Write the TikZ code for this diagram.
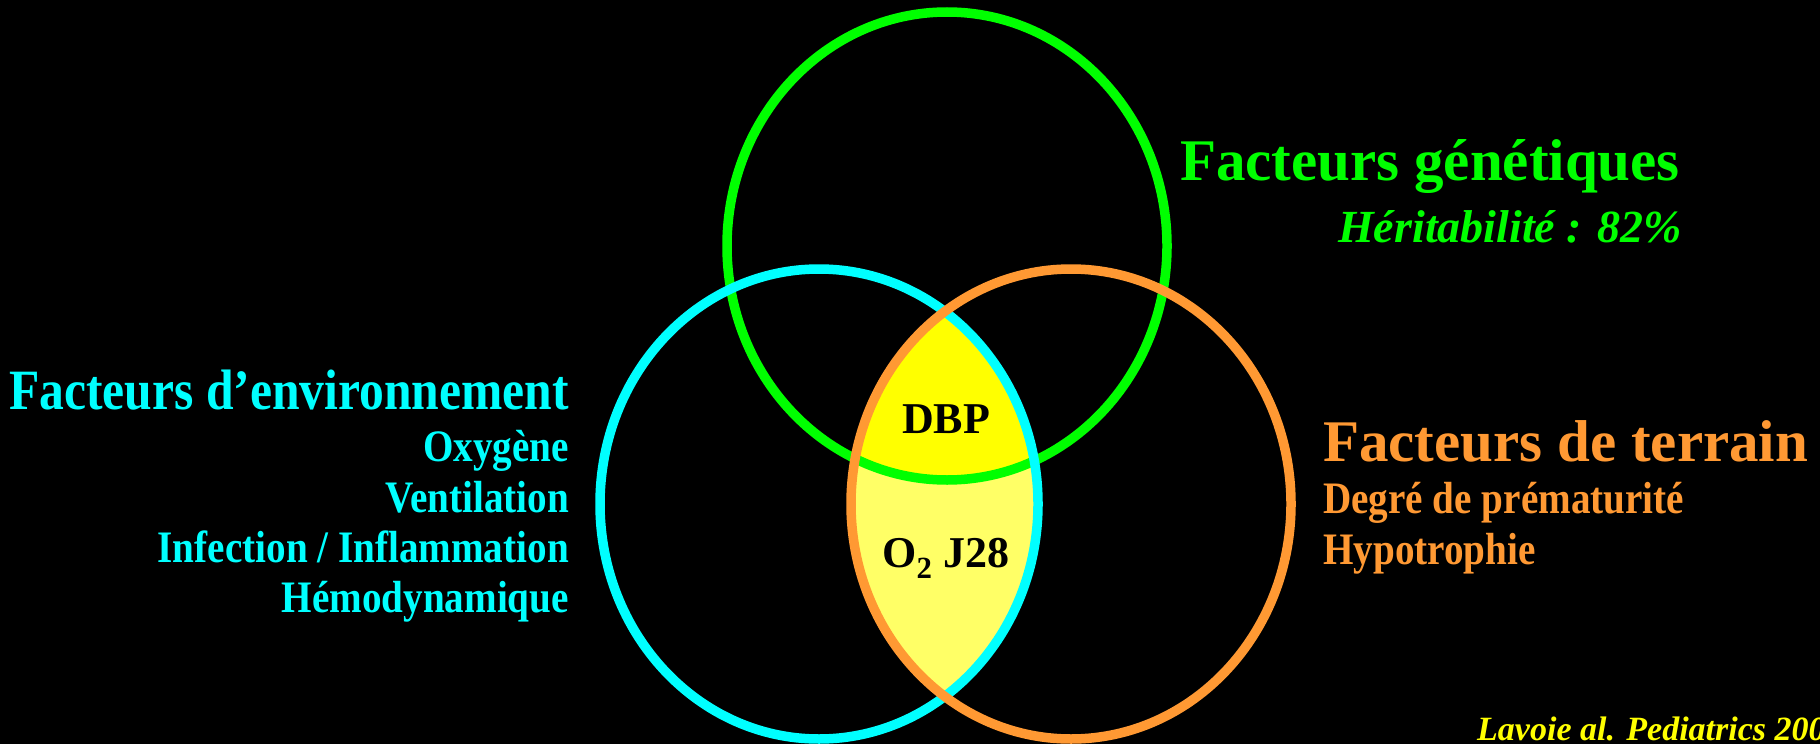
\documentclass[tikz,border=0pt]{standalone}
\usepackage{fontspec}
\setmainfont{Liberation Serif}
\newfontfamily\condfont[FakeStretch=0.87]{Liberation Serif}
\newcommand{\myfs}[1]{\fontsize{#1}{#1}\selectfont}
\definecolor{vgreen}{RGB}{0,255,0}
\definecolor{vcyan}{RGB}{0,255,255}
\definecolor{vorange}{RGB}{255,153,51}
\definecolor{vyellow}{RGB}{255,255,0}
\definecolor{lyellow}{RGB}{255,255,102}
\tikzset{
  ring/.style={line width=9.5pt},
  lbl/.style={inner sep=0pt, font=\bfseries},
}
\begin{document}
\begin{tikzpicture}[x=1pt,y=-1pt]
\useasboundingbox (0,0) rectangle (1820,744);
\fill[black] (0,0) rectangle (1820,744);
% lens fills
\begin{scope}
  \clip (819,504) ellipse [x radius=219pt, y radius=235pt];
  \fill[lyellow] (1071,504) ellipse [x radius=220pt, y radius=235pt];
  \clip (1071,504) ellipse [x radius=220pt, y radius=235pt];
  \fill[vyellow] (947,246) ellipse [x radius=220pt, y radius=234pt];
\end{scope}
% rings
\draw[ring, vgreen] (947,246) ellipse [x radius=220pt, y radius=234pt];
\draw[ring, vcyan] (819,504) ellipse [x radius=219pt, y radius=235pt];
\draw[ring, vorange] (1071,504) ellipse [x radius=220pt, y radius=235pt];
% genetic
\node[lbl, vgreen, anchor=base east] (gen) at (1680,180) {\myfs{59}Facteurs génétiques};
\node[lbl, vgreen, anchor=base east] (her) at (1682,242) {\myfs{46}\itshape Héritabilité : 82\%};
% environment
\node[lbl, vcyan, anchor=base east] (env) at (569,409) {\condfont\myfs{57}\bfseries Facteurs d’environnement};
\node[lbl, vcyan, anchor=base east] (oxy) at (569,461) {\condfont\myfs{45}\bfseries Oxygène};
\node[lbl, vcyan, anchor=base east] (ven) at (569,512) {\condfont\myfs{45}\bfseries Ventilation};
\node[lbl, vcyan, anchor=base east] (inf) at (569,562) {\condfont\myfs{45}\bfseries Infection / Inflammation};
\node[lbl, vcyan, anchor=base east] (hem) at (569,612) {\condfont\myfs{45}\bfseries Hémodynamique};
% terrain
\node[lbl, vorange, anchor=base west] (ter) at (1323,461) {\myfs{59}Facteurs de terrain};
\node[lbl, vorange, anchor=base west] (deg) at (1323,513) {\condfont\myfs{45}\bfseries Degré de prématurité};
\node[lbl, vorange, anchor=base west] (hyp) at (1323,564) {\condfont\myfs{45}\bfseries Hypotrophie};
% centre
\node[lbl, black, anchor=base] (dbp) at (946,433) {\myfs{44}DBP};
\node[lbl, black, anchor=base] (o2) at (946,567) {\myfs{44}O\textsubscript{2} J28};
% citation
\node[lbl, vyellow, anchor=base west] (cit) at (1477,740) {\myfs{34}\itshape Lavoie al. Pediatrics 200};
\end{tikzpicture}
\end{document}
